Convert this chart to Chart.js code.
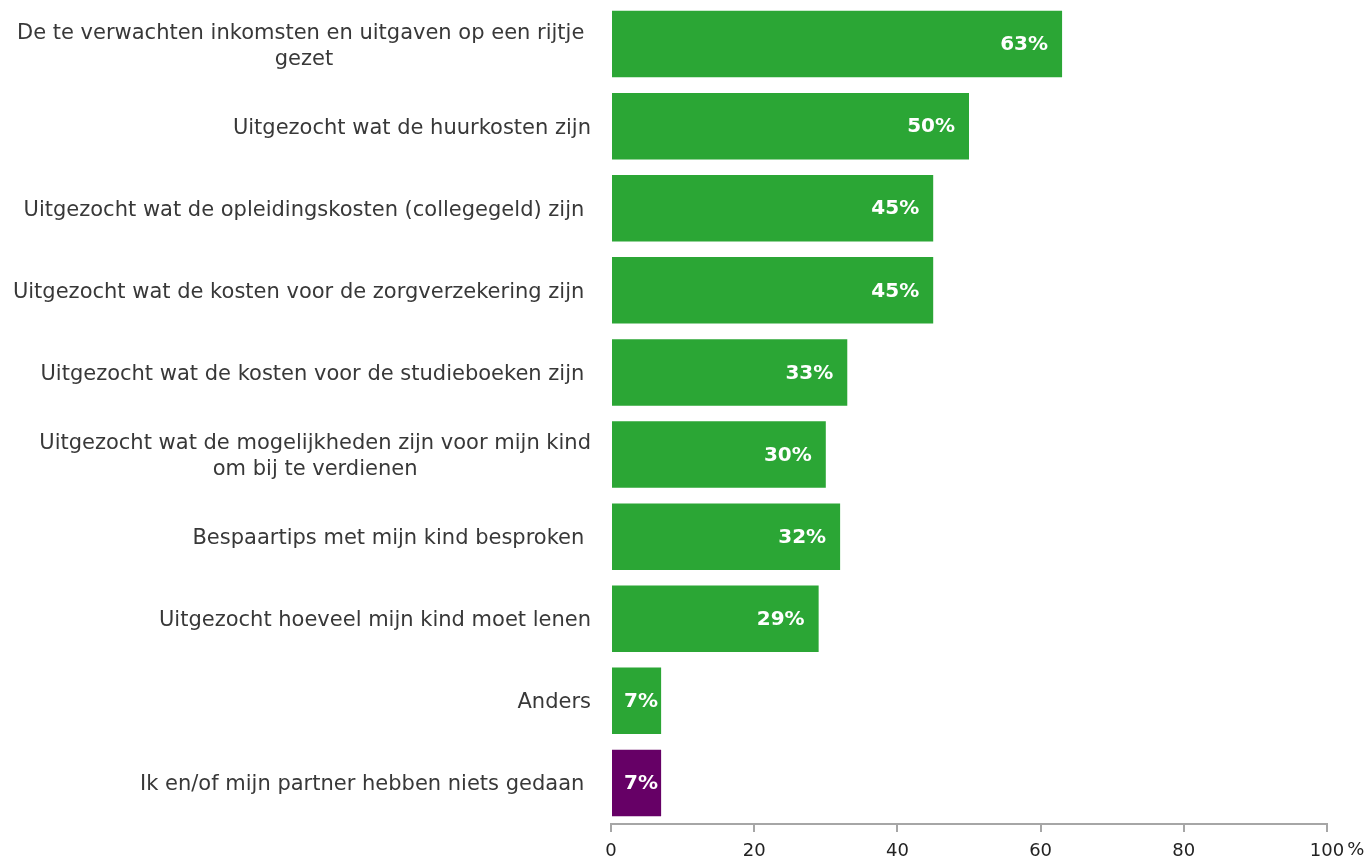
<!DOCTYPE html>
<html>
<head>
<meta charset="utf-8">
<script src="https://cdn.jsdelivr.net/npm/chart.js@4/dist/chart.umd.min.js"></script>
<style>
  html, body { margin: 0; padding: 0; background: #fff; }
  #wrap { width: 1371px; height: 859px; position: relative; }
</style>
</head>
<body>
<div id="wrap"><canvas id="chart"></canvas></div>
<script>
// categories (multi-line ones as arrays, trailing spaces as in the source)
const categories = [
  ["De te verwachten inkomsten en uitgaven op een rijtje ", "gezet"],
  "Uitgezocht wat de huurkosten zijn",
  "Uitgezocht wat de opleidingskosten (collegegeld) zijn ",
  "Uitgezocht wat de kosten voor de zorgverzekering zijn ",
  "Uitgezocht wat de kosten voor de studieboeken zijn ",
  ["Uitgezocht wat de mogelijkheden zijn voor mijn kind", "om bij te verdienen"],
  "Bespaartips met mijn kind besproken ",
  "Uitgezocht hoeveel mijn kind moet lenen",
  "Anders",
  "Ik en/of mijn partner hebben niets gedaan "
];
const percentages = [63, 50, 45, 45, 33, 30, 32, 29, 7, 7];
const barColors = ["#2ba635", "#2ba635", "#2ba635", "#2ba635", "#2ba635",
                   "#2ba635", "#2ba635", "#2ba635", "#2ba635", "#660066"];
const xTicks = [0, 20, 40, 60, 80, 100];

const FONT = "'DejaVu Sans', Verdana, sans-serif";

// draws the category labels: right aligned, lines centered within the label
const categoryLabels = {
  id: "categoryLabels",
  afterDraw(chart) {
    const ctx = chart.ctx;
    const y = chart.scales.y;
    const right = chart.chartArea.left - 20;
    const lineH = 26;
    ctx.save();
    ctx.font = "21px " + FONT;
    ctx.fillStyle = "#383838";
    ctx.textBaseline = "middle";
    ctx.textAlign = "center";
    categories.forEach((cat, i) => {
      const lines = Array.isArray(cat) ? cat : [cat];
      const widest = Math.max(...lines.map(l => ctx.measureText(l).width));
      const cx = right - widest / 2;
      const cy = y.getPixelForValue(i) + 2;
      lines.forEach((l, j) => {
        ctx.fillText(l, cx, cy + (j - (lines.length - 1) / 2) * lineH);
      });
    });
    ctx.restore();
  }
};

// value labels inside the bars, near the end
const valueLabels = {
  id: "valueLabels",
  afterDatasetsDraw(chart) {
    const ctx = chart.ctx;
    const meta = chart.getDatasetMeta(0);
    ctx.save();
    ctx.font = "bold 20px " + FONT;
    ctx.fillStyle = "#ffffff";
    ctx.textBaseline = "middle";
    ctx.textAlign = "left";
    meta.data.forEach((bar, i) => {
      const txt = percentages[i] + "%";
      const w = ctx.measureText(txt).width;
      const x = Math.max(bar.x - 14 - w, bar.base + 12);
      ctx.fillText(txt, x, bar.y + 1);
    });
    ctx.restore();
  }
};

// "%" sign after the last x tick
const percentSign = {
  id: "percentSign",
  afterDraw(chart) {
    const ctx = chart.ctx;
    const x = chart.scales.x;
    ctx.save();
    ctx.font = "18px " + FONT;
    ctx.fillStyle = "#222";
    ctx.textBaseline = "top";
    const w = ctx.measureText("100").width;
    ctx.fillText("%", x.getPixelForValue(100) + w / 2 + 3, chart.chartArea.bottom + 8 + 9);
    ctx.restore();
  }
};

new Chart(document.getElementById("chart"), {
  type: "bar",
  data: {
    labels: categories,
    datasets: [{
      data: percentages,
      backgroundColor: barColors,
      borderWidth: 0,
      categoryPercentage: 1,
      barPercentage: 0.81
    }]
  },
  options: {
    indexAxis: "y",
    responsive: true,
    maintainAspectRatio: false,
    animation: false,
    layout: { padding: { top: 3, right: 44, left: 0, bottom: 0 } },
    plugins: {
      legend: { display: false },
      tooltip: { enabled: false }
    },
    scales: {
      x: {
        min: 0,
        max: 100,
        afterBuildTicks: (scale) => { scale.ticks = xTicks.map(v => ({ value: v })); },
        afterFit: (scale) => { scale.height = 35; },
        border: { display: true, color: "#a6a6a6", width: 2 },
        grid: { drawOnChartArea: false, drawTicks: true, tickLength: 8, color: "#a6a6a6", lineWidth: 2 },
        ticks: {
          color: "#222",
          padding: 9,
          maxRotation: 0,
          font: { family: FONT, size: 18 }
        }
      },
      y: {
        afterFit: (scale) => { scale.width = 611; },
        border: { display: false },
        grid: { display: false },
        ticks: { display: false }
      }
    }
  },
  plugins: [categoryLabels, valueLabels, percentSign]
});
</script>
</body>
</html>
